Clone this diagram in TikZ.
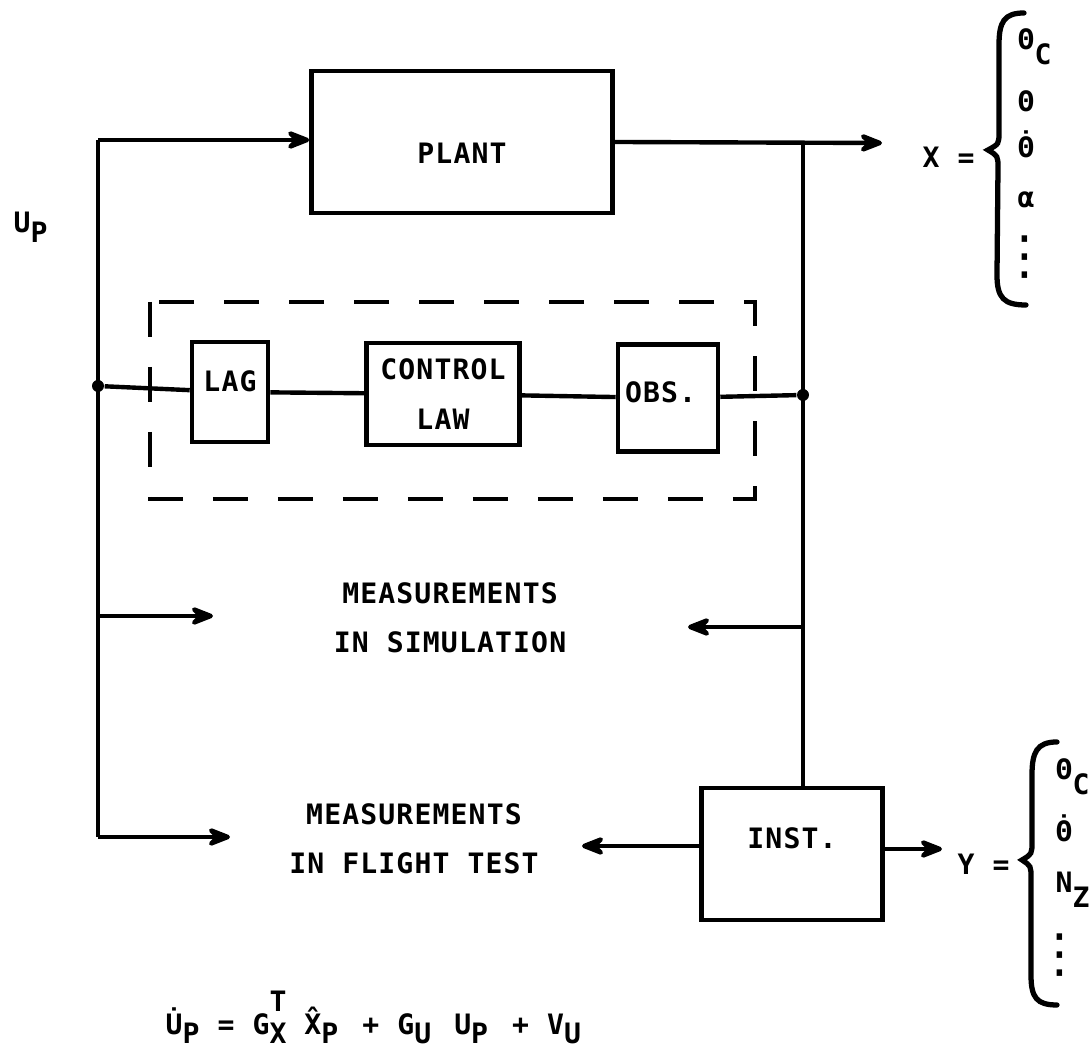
\documentclass[tikz,border=0pt]{standalone}
\usepackage{fontspec}
\setmainfont[LetterSpace=4,UprightFont={* Bold}]{DejaVu Sans Mono}
\newfontfamily\symfont{DejaVu Sans}
\usetikzlibrary{arrows.meta}
\newcommand{\lo}[2][.5em]{\raisebox{-#1}[0pt][0pt]{#2}}
\newcommand{\dt}[1]{\ooalign{#1\cr\hidewidth\raisebox{.2em}{˙}\hidewidth\cr}}

\begin{document}
\begin{tikzpicture}[x=0.1mm,y=-0.1mm,
  wire/.style={line width=1.25pt},
  arr/.style={-{Stealth[length=3.2mm,width=2.5mm,inset=1.3mm,round]}},
  blk/.style={draw,line width=1.3pt,inner sep=0pt,font=\fontsize{8}{14}\selectfont},
  txt/.style={font=\fontsize{8}{14}\selectfont,inner sep=0pt},
  dot/.style={circle,fill,inner sep=0pt,minimum size=1.2mm},
  frame/.style={line width=1.1pt,dash pattern=on 3.5mm off 3mm},
  brc/.style={line width=1.5pt,line cap=round},
  vdots/.style={font=\symfont\fontsize{15}{15}\selectfont,inner sep=0pt}]
  \useasboundingbox (0,0) rectangle (1089,1051);

  \node[blk,minimum width=30.1mm,minimum height=14.2mm,text height=6mm,text depth=1.6mm] (plant) at (462,142) {PLANT};
  \node[blk,minimum width=7.6mm,minimum height=10mm,text height=2mm,text depth=2mm] (lag) at (230,392) {LAG};
  \node[blk,align=center,minimum width=15.3mm,minimum height=10.2mm] (ctrl) at (443,394) {CONTROL\\LAW};
  \node[blk,minimum width=10mm,minimum height=10.7mm,text width=8.6mm,align=left,text height=2.4mm,text depth=1.55mm] (obs) at (668,398) {OBS.};
  \node[blk,minimum width=18.1mm,minimum height=13.2mm,text height=2mm,text depth=3.14mm] (inst) at (792,854) {INST.};
  \draw[frame] (150,302) rectangle (755,499);

  \coordinate (tl) at (98,140);
  \coordinate (bl) at (98,837);
  \coordinate (ls) at (98,616);
  \coordinate (rt) at (803,143);
  \coordinate (rs) at (803,627);
  \node[dot] (jl) at (98,386) {};
  \node[dot] (jr) at (803,395) {};
  \coordinate (xo) at (882,143);
  \coordinate (sa) at (213,616);
  \coordinate (fa) at (230,837);
  \coordinate (ra) at (688,627);
  \coordinate (ia) at (582,846);
  \coordinate (oa) at (942,849);

  \draw[wire] (bl) -- (tl);
  \draw[wire,arr] (tl) -- (tl -| plant.west);
  \draw[wire,arr] (plant.east) -- (xo);
  \draw[wire] (rt) -- (rt |- inst.north);
  \draw[wire] (jl) -- (lag) -- (ctrl) -- (obs) -- (jr);
  \draw[wire,arr] (ls) -- (sa);
  \draw[wire,arr] (bl) -- (fa);
  \draw[wire,arr] (rs) -- (ra);
  \draw[wire,arr] (inst.west |- ia) -- (ia);
  \draw[wire,arr] (inst.east |- oa) -- (oa);

  \node[txt,align=center] (sim) at (450,618) {MEASUREMENTS\\IN SIMULATION};
  \node[txt,align=center] (flt) at (414,839) {MEASUREMENTS\\IN FLIGHT TEST};
  \node[txt,anchor=base west] (up) at (13,233) {U\lo[.35em]{P}};

  \node[txt,anchor=base west] (xeq) at (922,168) {X~=};
  \draw[brc] (1024,13) .. controls (1004,13) and (999,22) .. (999,45) -- (999,132)
    .. controls (999,144) .. (988,150) .. controls (998,156) .. (998,168) -- (997,275)
    .. controls (997,298) and (1004,305) .. (1026,305);
  \foreach \t/\yy [count=\i] in {{Θ\lo{C}}/50, Θ/112, {\dt{Θ}}/158, α/208}
    \node[txt,anchor=base west] (x\i) at (1017,\yy) {\t};
  \node[vdots] (xd) at (1025,257) {⋮};

  \node[txt,anchor=base west] (yeq) at (957,875) {Y~=};
  \draw[brc] (1057,742) .. controls (1037,742) and (1032,752) .. (1032,775) -- (1032,842)
    .. controls (1032,854) .. (1022,860) .. controls (1031,866) .. (1031,878) -- (1031,975)
    .. controls (1031,998) and (1037,1005) .. (1057,1005);
  \foreach \t/\yy [count=\i] in {{Θ\lo{C}}/780, {\dt{Θ}}/842, {N\lo{Z}}/893}
    \node[txt,anchor=base west] (y\i) at (1055,\yy) {\t};
  \node[vdots] (yd) at (1060,955) {⋮};

  \node[txt,anchor=base west] (eq) at (165,1035) {U̇\lo[.3em]{P}~=~G\ooalign{\lo[.3em]{X}\cr\raisebox{.84em}[0pt][0pt]{T}\cr}~X̂\lo[.3em]{P}\kern.6mm~+~G\lo[.3em]{U}\kern.5mm~U\lo[.3em]{P}\kern.6mm~+~V\lo[.3em]{U}};
\end{tikzpicture}
\end{document}
